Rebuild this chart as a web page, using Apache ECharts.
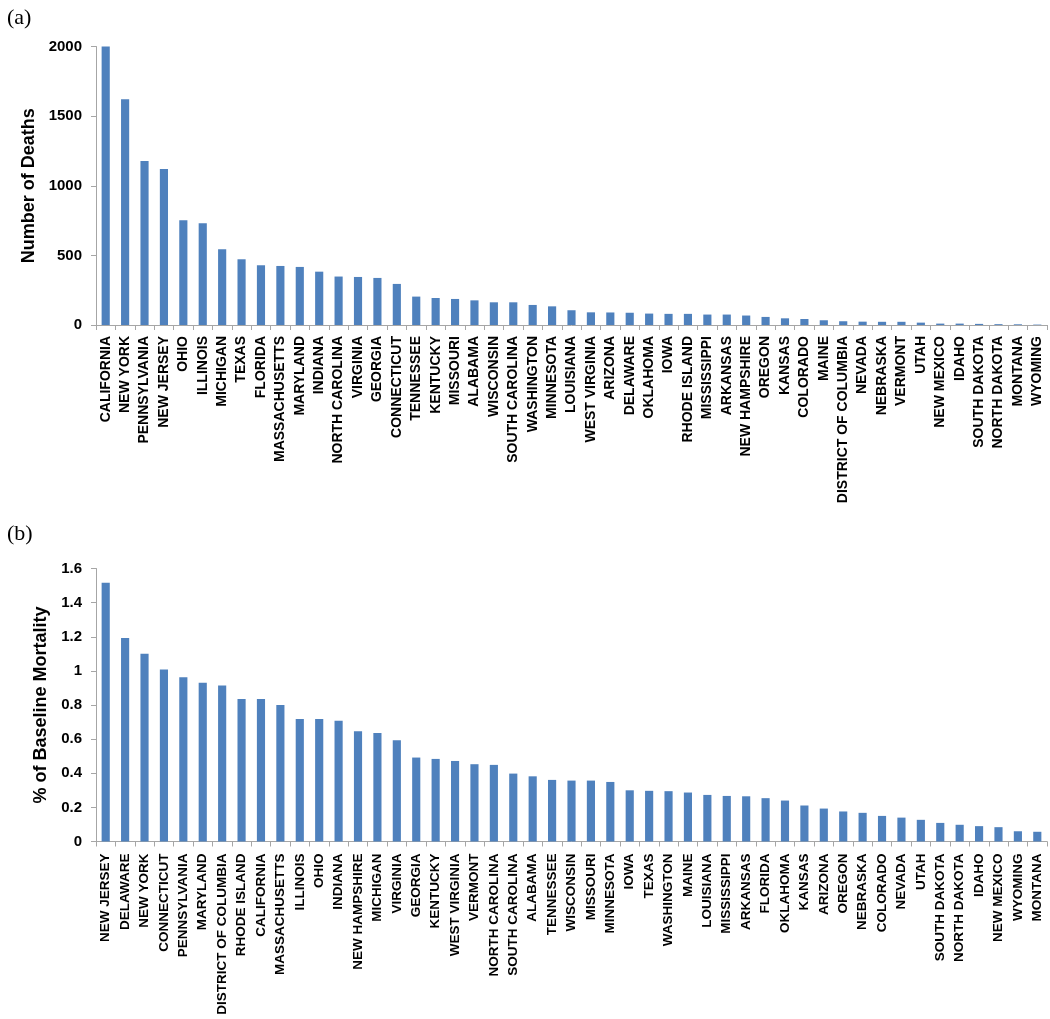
<!DOCTYPE html>
<html>
<head>
<meta charset="utf-8">
<script src="https://cdn.jsdelivr.net/npm/echarts@6/dist/echarts.min.js"></script>
<style>
  html, body { margin: 0; padding: 0; background: #ffffff; }
  #chart { width: 1050px; height: 1019px; }
</style>
</head>
<body>
<div id="chart"></div>
<script>
// Panel (a): number of deaths by state
const statesA = ["CALIFORNIA","NEW YORK","PENNSYLVANIA","NEW JERSEY","OHIO","ILLINOIS","MICHIGAN","TEXAS","FLORIDA","MASSACHUSETTS","MARYLAND","INDIANA","NORTH CAROLINA","VIRGINIA","GEORGIA","CONNECTICUT","TENNESSEE","KENTUCKY","MISSOURI","ALABAMA","WISCONSIN","SOUTH CAROLINA","WASHINGTON","MINNESOTA","LOUISIANA","WEST VIRGINIA","ARIZONA","DELAWARE","OKLAHOMA","IOWA","RHODE ISLAND","MISSISSIPPI","ARKANSAS","NEW HAMPSHIRE","OREGON","KANSAS","COLORADO","MAINE","DISTRICT OF COLUMBIA","NEVADA","NEBRASKA","VERMONT","UTAH","NEW MEXICO","IDAHO","SOUTH DAKOTA","NORTH DAKOTA","MONTANA","WYOMING"];
const deaths = [2000,1622,1178,1121,752,731,544,472,429,424,417,383,348,345,338,295,204,194,187,177,163,163,144,134,106,91,90,88,82,80,80,75,75,68,58,48,43,34,27,24,23,23,17,10,10,8,6,5,3];

// Panel (b): % of baseline mortality by state
const statesB = ["NEW JERSEY","DELAWARE","NEW YORK","CONNECTICUT","PENNSYLVANIA","MARYLAND","DISTRICT OF COLUMBIA","RHODE ISLAND","CALIFORNIA","MASSACHUSETTS","ILLINOIS","OHIO","INDIANA","NEW HAMPSHIRE","MICHIGAN","VIRGINIA","GEORGIA","KENTUCKY","WEST VIRGINIA","VERMONT","NORTH CAROLINA","SOUTH CAROLINA","ALABAMA","TENNESSEE","WISCONSIN","MISSOURI","MINNESOTA","IOWA","TEXAS","WASHINGTON","MAINE","LOUISIANA","MISSISSIPPI","ARKANSAS","FLORIDA","OKLAHOMA","KANSAS","ARIZONA","OREGON","NEBRASKA","COLORADO","NEVADA","UTAH","SOUTH DAKOTA","NORTH DAKOTA","IDAHO","NEW MEXICO","WYOMING","MONTANA"];
const pctBaseline = [1.516,1.192,1.100,1.008,0.962,0.931,0.915,0.835,0.835,0.800,0.718,0.718,0.708,0.646,0.636,0.593,0.492,0.484,0.472,0.453,0.449,0.398,0.382,0.361,0.357,0.357,0.349,0.300,0.297,0.295,0.287,0.273,0.267,0.265,0.254,0.240,0.211,0.193,0.176,0.168,0.150,0.140,0.127,0.109,0.098,0.090,0.084,0.060,0.057];

const yTitleA = "Number of Deaths";
const yTitleB = "% of Baseline Mortality";

const FONT = "'Liberation Sans', Arial, sans-serif";
const AXIS_GRAY = "#a6a6a6";
const BAR_COLOR = "#4f81bd";

function catAxis(gridIndex, data, margin, size) {
  return {
    type: 'category', gridIndex: gridIndex, data: data,
    axisLine: { lineStyle: { color: AXIS_GRAY, width: 1 } },
    axisTick: { show: true, length: 5, lineStyle: { color: AXIS_GRAY } },
    axisLabel: {
      interval: 0, rotate: 90, margin: margin,
      fontFamily: FONT, fontWeight: 'bold', fontSize: size, color: '#000'
    }
  };
}
function valAxis(gridIndex, max, interval, name, nameGap) {
  return {
    type: 'value', gridIndex: gridIndex, min: 0, max: max, interval: interval,
    name: name, nameLocation: 'middle', nameGap: nameGap,
    nameTextStyle: { fontFamily: FONT, fontWeight: 'bold', fontSize: 18, color: '#000' },
    axisLine: { show: true, lineStyle: { color: AXIS_GRAY, width: 1 } },
    axisTick: { show: true, length: 5, lineStyle: { color: AXIS_GRAY } },
    splitLine: { show: false },
    axisLabel: { margin: 14, fontFamily: FONT, fontWeight: 'bold', fontSize: 15, color: '#000',
      formatter: function (v) { return String(Math.round(v * 10) / 10); } }
  };
}

const chart = echarts.init(document.getElementById('chart'), null, { renderer: 'canvas' });
chart.setOption({
  backgroundColor: '#ffffff',
  animation: false,
  title: [
    { text: '(a)', left: 2, top: 2, textStyle: { fontFamily: "'Liberation Serif', 'Times New Roman', serif", fontWeight: 'normal', fontSize: 22, color: '#000' } },
    { text: '(b)', left: 2, top: 518, textStyle: { fontFamily: "'Liberation Serif', 'Times New Roman', serif", fontWeight: 'normal', fontSize: 22, color: '#000' } }
  ],
  grid: [
    { left: 96, right: 3, top: 46.5, bottom: 694, containLabel: false, outerBoundsMode: 'none' },
    { left: 96, right: 3, top: 568.5, bottom: 177.5, containLabel: false, outerBoundsMode: 'none' }
  ],
  xAxis: [ catAxis(0, statesA, 11, 14), catAxis(1, statesB, 12, 13.5) ],
  yAxis: [ valAxis(0, 2000, 500, yTitleA, 52), valAxis(1, 1.6, 0.2, yTitleB, 40) ],
  series: [
    { type: 'bar', xAxisIndex: 0, yAxisIndex: 0, data: deaths, barWidth: '42%',
      itemStyle: { color: BAR_COLOR } },
    { type: 'bar', xAxisIndex: 1, yAxisIndex: 1, data: pctBaseline, barWidth: '42%',
      itemStyle: { color: BAR_COLOR } }
  ]
});
</script>
</body>
</html>
